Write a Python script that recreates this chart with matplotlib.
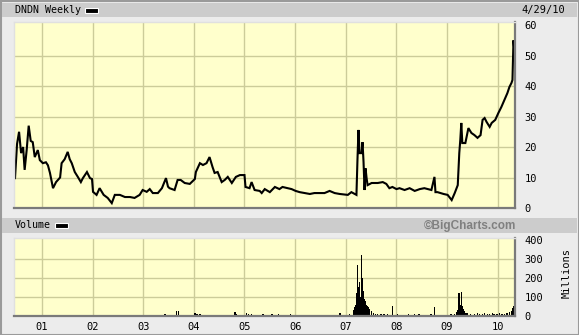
import matplotlib
matplotlib.use('Agg')
import matplotlib.pyplot as plt
from matplotlib.patches import Rectangle

matplotlib.rcParams['font.family'] = 'DejaVu Sans Mono'
matplotlib.rcParams['font.size'] = 7.5

W, H = 579, 335

# weekly price (decimal year, close)
price_t = [2000.47, 2000.49, 2000.51, 2000.55, 2000.59, 2000.63, 2000.66, 2000.70, 2000.74, 2000.78,
           2000.82, 2000.86, 2000.92, 2000.96, 2001.02, 2001.08, 2001.12, 2001.16, 2001.22, 2001.28,
           2001.36, 2001.39, 2001.45, 2001.51, 2001.55, 2001.59, 2001.65, 2001.71, 2001.77, 2001.81,
           2001.89, 2001.95, 2001.99, 2002.01, 2002.08, 2002.14, 2002.22, 2002.30, 2002.38, 2002.44,
           2002.54, 2002.64, 2002.74, 2002.83, 2002.93, 2002.99, 2003.07, 2003.13, 2003.19, 2003.29,
           2003.37, 2003.45, 2003.49, 2003.52, 2003.62, 2003.68, 2003.74, 2003.82, 2003.92, 2004.02,
           2004.04, 2004.12, 2004.18, 2004.25, 2004.31, 2004.37, 2004.41, 2004.47, 2004.55, 2004.61,
           2004.67, 2004.75, 2004.83, 2004.91, 2005.00, 2005.02, 2005.10, 2005.14, 2005.20, 2005.30,
           2005.34, 2005.40, 2005.50, 2005.56, 2005.60, 2005.69, 2005.75, 2005.85, 2005.93, 2006.01,
           2006.09, 2006.19, 2006.29, 2006.38, 2006.48, 2006.58, 2006.68, 2006.78, 2006.88, 2007.04,
           2007.11, 2007.21, 2007.23, 2007.25, 2007.27, 2007.31, 2007.33, 2007.35, 2007.37, 2007.39,
           2007.41, 2007.43, 2007.51, 2007.63, 2007.73, 2007.80, 2007.86, 2007.92, 2008.00, 2008.06,
           2008.16, 2008.26, 2008.36, 2008.46, 2008.55, 2008.69, 2008.75, 2008.77, 2008.81, 2008.93,
           2009.01, 2009.09, 2009.15, 2009.21, 2009.24, 2009.26, 2009.28, 2009.30, 2009.36, 2009.40,
           2009.42, 2009.48, 2009.54, 2009.60, 2009.66, 2009.70, 2009.74, 2009.78, 2009.84, 2009.88,
           2009.95, 2010.01, 2010.07, 2010.13, 2010.19, 2010.23, 2010.27, 2010.29, 2010.31, 2010.33]
price = [9.8, 15.7, 21.0, 25.0, 18.0, 20.0, 12.5, 19.0, 27.0, 22.0,
         21.6, 16.7, 19.0, 15.7, 14.7, 15.0, 14.0, 11.5, 6.5, 8.5,
         10.0, 14.7, 16.0, 18.4, 16.0, 14.7, 11.8, 10.2, 8.5, 9.8,
         11.8, 9.8, 9.5, 5.3, 4.3, 6.5, 4.3, 3.3, 1.6, 4.3,
         4.3, 3.6, 3.6, 3.3, 4.3, 5.9, 5.3, 6.2, 4.9, 4.9,
         6.5, 9.8, 7.0, 6.5, 5.9, 9.2, 9.2, 8.2, 7.9, 9.5,
         11.8, 14.7, 14.1, 14.7, 16.7, 13.4, 11.5, 11.8, 8.5, 9.2,
         10.2, 8.2, 10.2, 10.8, 10.8, 6.9, 6.5, 8.5, 5.9, 5.6,
         4.9, 6.2, 5.2, 6.2, 6.9, 6.2, 6.9, 6.5, 6.2, 5.6,
         5.2, 4.9, 4.6, 4.9, 4.9, 4.9, 5.6, 4.9, 4.6, 4.3,
         5.2, 4.3, 15.7, 25.6, 18.0, 18.0, 21.6, 15.1, 5.9, 13.0,
         9.8, 7.5, 8.2, 8.2, 8.5, 7.9, 6.5, 6.9, 6.2, 6.5,
         5.9, 6.5, 5.6, 6.2, 6.5, 5.9, 10.2, 5.2, 5.2, 4.6,
         4.3, 2.6, 4.9, 7.5, 18.0, 22.3, 27.9, 21.3, 21.3, 24.6,
         26.2, 24.6, 23.9, 23.0, 23.9, 28.9, 29.5, 28.2, 26.6, 27.9,
         28.9, 31.1, 33.1, 35.4, 37.7, 39.7, 41.0, 42.0, 55.0, 51.0]

# weekly volume in millions (only weeks that show as bars)
vol_t = [2002.01, 2003.43, 2003.66, 2003.70, 2004.02, 2004.06, 2004.12, 2004.20, 2004.30, 2004.40,
         2004.50, 2004.60, 2004.81, 2004.83, 2005.04, 2005.08, 2005.14, 2005.36, 2005.54, 2005.67,
         2005.85, 2005.91, 2006.09, 2006.30, 2006.48, 2006.70, 2006.88, 2007.07, 2007.15, 2007.17,
         2007.19, 2007.21, 2007.23, 2007.25, 2007.27, 2007.29, 2007.31, 2007.33, 2007.35, 2007.37,
         2007.39, 2007.41, 2007.43, 2007.45, 2007.47, 2007.51, 2007.55, 2007.59, 2007.63, 2007.69,
         2007.75, 2007.82, 2007.92, 2008.02, 2008.10, 2008.16, 2008.24, 2008.30, 2008.36, 2008.44,
         2008.50, 2008.55, 2008.62, 2008.68, 2008.75, 2008.85, 2008.92, 2009.01, 2009.08, 2009.15,
         2009.19, 2009.21, 2009.23, 2009.24, 2009.26, 2009.28, 2009.30, 2009.32, 2009.34, 2009.37,
         2009.40, 2009.46, 2009.54, 2009.60, 2009.64, 2009.70, 2009.74, 2009.80, 2009.84, 2009.90,
         2009.93, 2009.98, 2010.03, 2010.08, 2010.13, 2010.18, 2010.23, 2010.27, 2010.29, 2010.31]
volume = [5, 8, 25, 25, 18, 10, 8, 5, 5, 5,
          5, 5, 22, 12, 16, 12, 8, 10, 10, 8,
          6, 8, 4, 5, 6, 5, 15, 12, 30, 45,
          60, 120, 270, 150, 180, 100, 320, 200, 130, 90,
          80, 60, 55, 45, 35, 25, 18, 12, 10, 8,
          8, 10, 50, 8, 7, 6, 8, 6, 8, 9,
          6, 6, 7, 9, 45, 5, 6, 6, 8, 10,
          22, 30, 40, 120, 60, 125, 50, 35, 25, 18,
          15, 12, 10, 14, 12, 10, 15, 12, 10, 14,
          12, 10, 15, 12, 12, 16, 20, 25, 40, 55]

years = list(range(2001, 2011))
year_labels = ['01', '02', '03', '04', '05', '06', '07', '08', '09', '10']
price_ticks = [0, 10, 20, 30, 40, 50, 60]
vol_ticks = [0, 100, 200, 300, 400]

BG = '#ececec'
BAND = '#cccccc'
PLOT_BG = '#ffffcc'
GRID = '#cccc99'


def fbox(x0, y0, x1, y1):
    # pixel box (top-left origin) -> figure fraction [l, b, w, h]
    return [x0 / W, 1 - y1 / H, (x1 - x0) / W, (y1 - y0) / H]


fig = plt.figure(figsize=(W / 100, H / 100), dpi=100)
fig.patch.set_facecolor(BG)

# outer border and header bands
for box, fc, ec in [((0.5, 0.5, 578.5, 334.5), 'none', '#9a9a9a'),
                    ((2, 3, 577, 17), BAND, 'none'),
                    ((2, 218, 577, 233), BAND, 'none')]:
    l, b, w, h = fbox(*box)
    fig.add_artist(Rectangle((l, b), w, h, transform=fig.transFigure,
                             facecolor=fc, edgecolor=ec, lw=1.5, zorder=0))

ax = fig.add_axes(fbox(14, 22, 515, 208))
axv = fig.add_axes(fbox(14, 238, 515, 316))

for a in (ax, axv):
    a.set_facecolor(PLOT_BG)
    a.set_xlim(2000.45, 2010.34)
    a.set_xticks(years)
    a.grid(True, color=GRID, lw=1.0)
    a.set_axisbelow(True)
    a.yaxis.tick_right()
    a.tick_params(length=0, pad=7, labelsize=7.5)
    for s in ('left', 'top'):
        a.spines[s].set_color('#e0e0e0')
        a.spines[s].set_linewidth(1)
    for s in ('right', 'bottom'):
        a.spines[s].set_color('#7a7a7a')
        a.spines[s].set_linewidth(1.6)

ax.plot(price_t, price, color='black', lw=1.5, solid_joinstyle='miter')
ax.set_ylim(0, 61)
ax.set_yticks(price_ticks)
ax.set_xticklabels([])
ax.yaxis.set_ticklabels([str(v) for v in price_ticks])
for gl, v in zip(ax.get_ygridlines(), price_ticks):
    if v in (0, 60):
        gl.set_visible(False)

axv.bar(vol_t, volume, width=1.6 / 52, color='black', align='center')
axv.set_ylim(0, 410)
axv.set_yticks(vol_ticks)
axv.set_xticklabels(year_labels)
axv.tick_params(axis='x', pad=4)
for gl, v in zip(axv.get_ygridlines(), vol_ticks):
    if v in (0, 400):
        gl.set_visible(False)

# header texts
fig.text(15 / W, 1 - 10 / H, 'DNDN Weekly', va='center', ha='left', fontsize=7.2)
fig.text(565 / W, 1 - 10 / H, '4/29/10', va='center', ha='right', fontsize=7.5)
fig.text(15 / W, 1 - 225.5 / H, 'Volume', va='center', ha='left', fontsize=7.2)
fig.text(516 / W, 1 - 225.5 / H, '\u00a9BigCharts.com', va='center', ha='right',
         fontsize=8.5, fontweight='bold', color='#808080', family='Liberation Sans')
fig.text(567 / W, 1 - 273 / H, 'Millions', va='center', ha='center', rotation=90,
         fontsize=7.5)

# legend swatches
for x0, y0 in [(85, 8), (55, 223)]:
    l, b, w, h = fbox(x0, y0, x0 + 13, y0 + 5)
    fig.add_artist(Rectangle((l, b), w, h, transform=fig.transFigure,
                             facecolor='black', edgecolor='white', lw=0.8))

fig.savefig('out.png', dpi=100, facecolor=fig.get_facecolor())
